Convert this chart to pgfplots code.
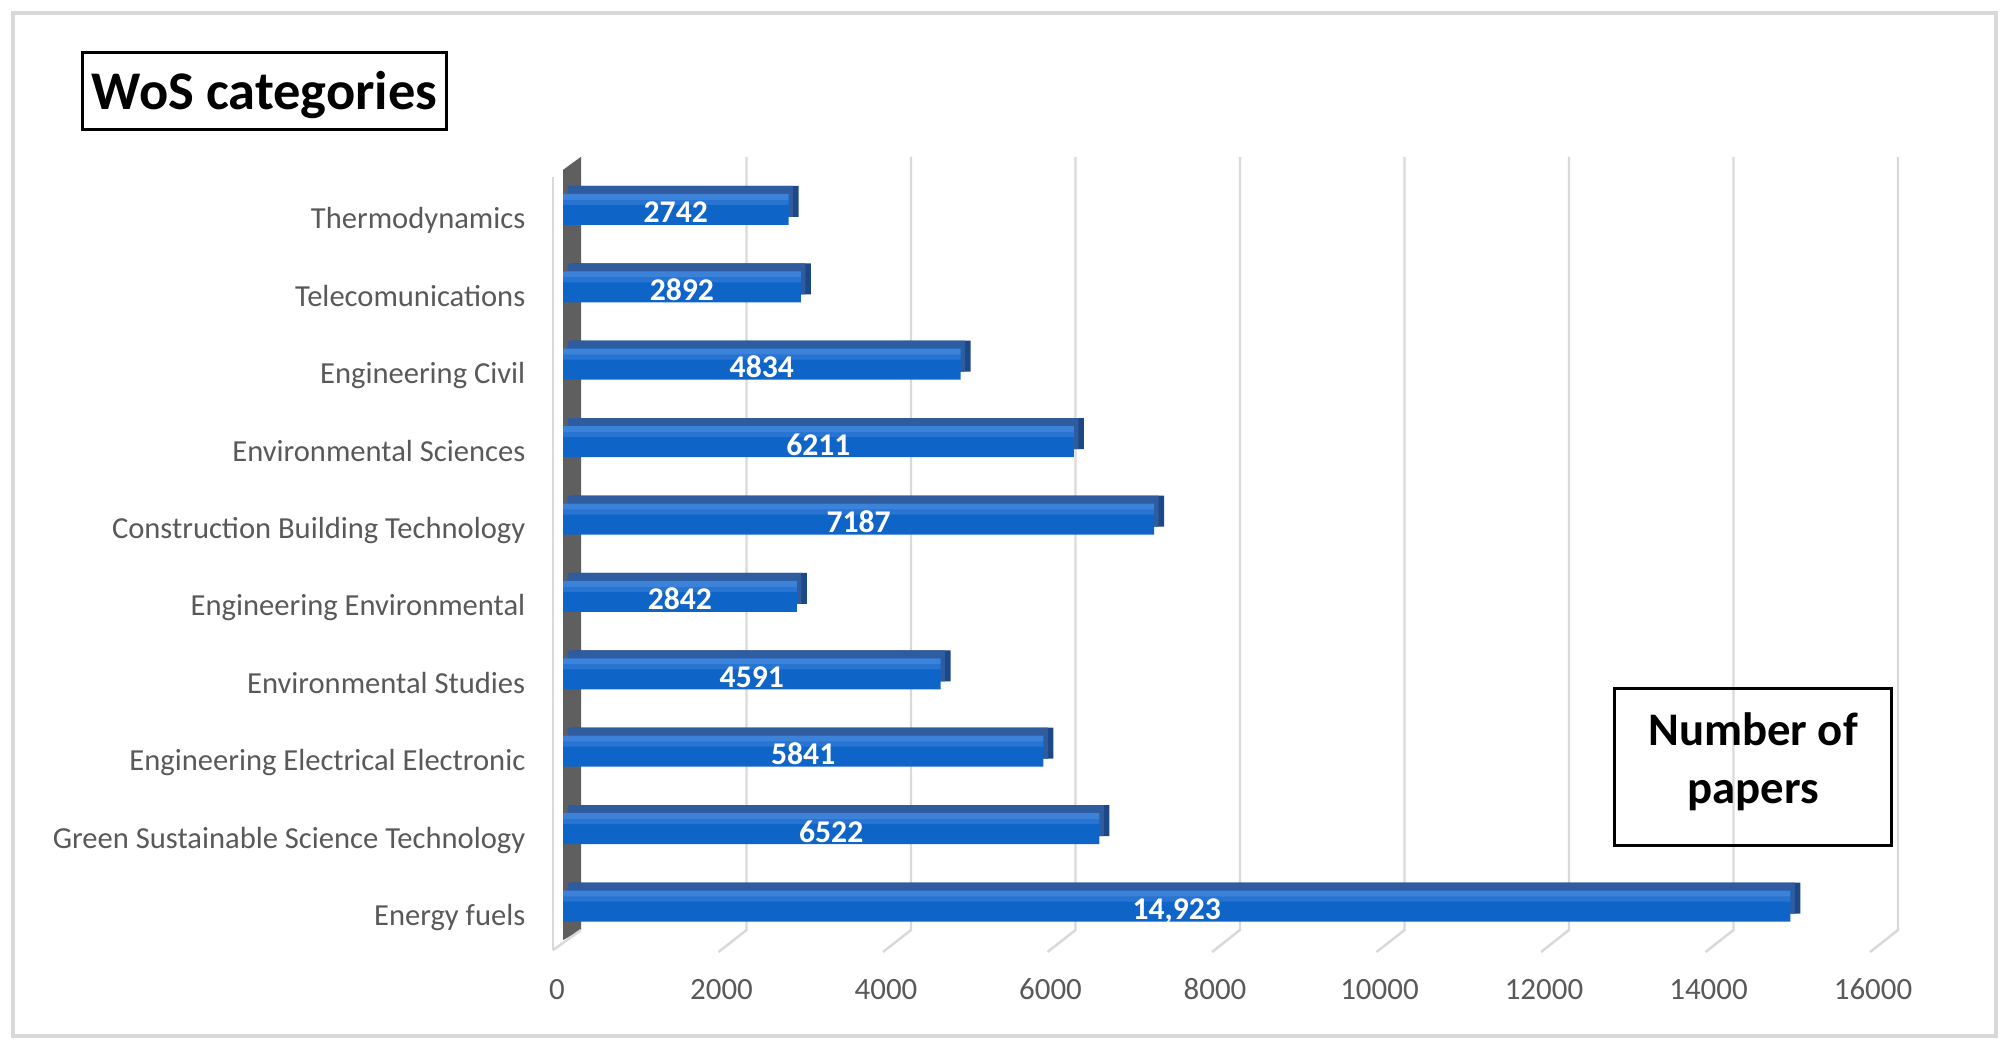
\documentclass[border=0pt]{standalone}
\usepackage{fontspec}
\setmainfont{Carlito}
\usepackage{pgfplots}
\usepackage{pgfplotstable}
\pgfplotsset{compat=1.18}

\definecolor{labgray}{HTML}{595959}
\definecolor{gridgray}{HTML}{D9D9D9}
\definecolor{barlight}{HTML}{3D82D9}
\definecolor{barhalf}{HTML}{2774D2}
\definecolor{barmain}{HTML}{0F64C8}
\definecolor{bartopface}{HTML}{2F5C9E}
\definecolor{barend}{HTML}{1D4887}
\definecolor{wallgray}{HTML}{5F5F5F}

% y = position from the bottom, v = number of papers
\pgfplotstableread{
y v lab
0 14923 {14,923}
1 6522 6522
2 5841 5841
3 4591 4591
4 2842 2842
5 7187 7187
6 6211 6211
7 4834 4834
8 2892 2892
9 2742 2742
}\papers

\begin{document}
\begin{tikzpicture}
\useasboundingbox (0,0) rectangle (20.06,10.48);
\draw[gridgray, line width=1pt] (0.13,0.12) rectangle (19.96,10.35);

\begin{axis}[
    at={(5.63cm,0.96cm)}, anchor=south west,
    scale only axis, width=13.16cm, height=7.96cm,
    xmin=0, xmax=16000, ymin=-0.594, ymax=9.69,
    clip=false,
    axis line style={draw=none},
    major tick length=0pt,
    xtick={0,2000,...,16000},
    scaled x ticks=false,
    ytick={0,...,9},
    yticklabels={Energy fuels, Green Sustainable Science Technology,
        Engineering Electrical Electronic, Environmental Studies,
        Engineering Environmental, Construction Building Technology,
        Environmental Sciences, Engineering Civil, Telecomunications,
        Thermodynamics},
    xticklabel style={anchor=base, inner sep=0pt, yshift=-4.8mm, xshift=-0.6mm,
        font=\fontsize{8.8}{10}\selectfont, text=labgray},
    yticklabel style={anchor=base east, inner sep=0pt, xshift=-3.7mm, yshift=-1.95mm,
        font=\fontsize{8.7}{10}\selectfont, text=labgray},
    bar width=3.1mm,
    /pgf/number format/1000 sep={},
    /pgf/number format/assume math mode=true,
]
% back wall and floor lines (3-D look of the original)
\fill[wallgray] (axis cs:0,-0.44) -- (axis cs:219,-0.31) -- (axis cs:219,9.68) -- (axis cs:0,9.51) -- cycle;
\draw[gridgray, line width=0.7pt] (axis cs:2231,9.68) -- (axis cs:2231,-0.31) -- (axis cs:1891,-0.594);
\draw[gridgray, line width=0.7pt] (axis cs:4231,9.68) -- (axis cs:4231,-0.31) -- (axis cs:3891,-0.594);
\draw[gridgray, line width=0.7pt] (axis cs:6231,9.68) -- (axis cs:6231,-0.31) -- (axis cs:5891,-0.594);
\draw[gridgray, line width=0.7pt] (axis cs:8231,9.68) -- (axis cs:8231,-0.31) -- (axis cs:7891,-0.594);
\draw[gridgray, line width=0.7pt] (axis cs:10231,9.68) -- (axis cs:10231,-0.31) -- (axis cs:9891,-0.594);
\draw[gridgray, line width=0.7pt] (axis cs:12231,9.68) -- (axis cs:12231,-0.31) -- (axis cs:11891,-0.594);
\draw[gridgray, line width=0.7pt] (axis cs:14231,9.68) -- (axis cs:14231,-0.31) -- (axis cs:13891,-0.594);
\draw[gridgray, line width=0.7pt] (axis cs:16231,9.68) -- (axis cs:16231,-0.31) -- (axis cs:15891,-0.594);
\draw[gridgray, line width=0.7pt] (axis cs:-122,9.42) -- (axis cs:-122,-0.57);
\draw[gridgray, line width=0.7pt] (axis cs:219,-0.31) -- (axis cs:-122,-0.57);

% bar depth: end face and top face
\addplot[xbar, draw=none, fill=barend, xshift=1.0mm, yshift=0.8mm]
    table[x=v, y=y] {\papers};
\addplot[xbar, draw=none, fill=bartopface, xshift=0.45mm, yshift=0.8mm]
    table[x=v, y=y] {\papers};
% bar front face, lighter towards the top
\addplot[xbar, draw=none, fill=barmain]
    table[x=v, y=y] {\papers};
\addplot[xbar, draw=none, fill=barhalf, bar width=0.5mm, bar shift=0.7mm]
    table[x=v, y=y] {\papers};
\addplot[xbar, draw=none, fill=barlight, bar width=0.6mm, bar shift=1.25mm]
    table[x=v, y=y] {\papers};
% value labels in the middle of each bar
\addplot[draw=none, mark=none, point meta=explicit symbolic,
    nodes near coords={\raisebox{-2.6mm}[0pt][0pt]{\fontsize{9}{10}\selectfont\bfseries\color{white}\pgfplotspointmeta}}]
    table[x expr=\thisrow{v}/2, y=y, meta=lab] {\papers};
\end{axis}

\node[draw, line width=0.9pt, minimum width=3.64cm, minimum height=0.77cm,
    anchor=north west, inner sep=0pt] (wos) at (0.81,9.97) {};
\node[font=\bfseries\fontsize{15.5}{18}\selectfont, yshift=-0.4mm] at (wos.center) {WoS categories};
\node[draw, line width=0.9pt, minimum width=2.77cm, minimum height=1.57cm,
    anchor=north west, inner sep=0pt] (nop) at (16.13,3.61) {};
\node[align=center, font=\bfseries\fontsize{13.3}{16.5}\selectfont, yshift=0.5mm]
    at (nop.center) {Number of\\papers};
\end{tikzpicture}
\end{document}
